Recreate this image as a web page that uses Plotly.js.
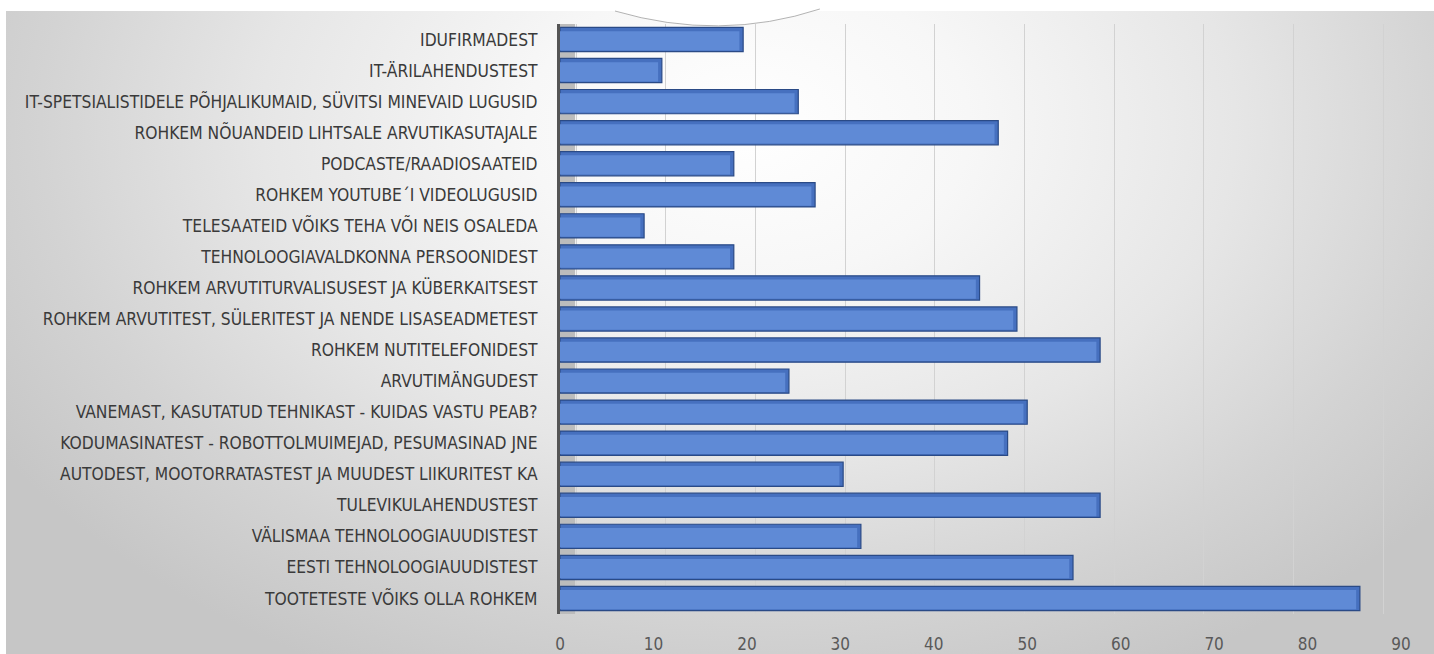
<!DOCTYPE html>
<html>
<head>
<meta charset="utf-8">
<script src="https://cdn.plot.ly/plotly-3.0.1.min.js"></script>
<style>
  html, body { margin: 0; padding: 0; background: #ffffff; }
  #wrap { position: relative; width: 1434px; height: 654px; overflow: hidden; }
  #bg { position: absolute; left: 6px; top: 11px; width: 1428px; height: 643px;
        background: radial-gradient(ellipse 62% 95% at 52% 18%, #ffffff 0%, #f7f7f7 25%, #e6e6e6 55%, #d3d3d3 80%, #c6c6c6 100%); }
  #chart { position: absolute; left: 0; top: 0; width: 1434px; height: 654px; }
</style>
</head>
<body>
<div id="wrap">
  <div id="bg"></div>
  <div id="chart"></div>
</div>
<script>
// Categories, top to bottom
const categories = [
  "IDUFIRMADEST",
  "IT-ÄRILAHENDUSTEST",
  "IT-SPETSIALISTIDELE PÕHJALIKUMAID, SÜVITSI MINEVAID LUGUSID",
  "ROHKEM NÕUANDEID LIHTSALE ARVUTIKASUTAJALE",
  "PODCASTE/RAADIOSAATEID",
  "ROHKEM YOUTUBE´I VIDEOLUGUSID",
  "TELESAATEID VÕIKS TEHA VÕI NEIS OSALEDA",
  "TEHNOLOOGIAVALDKONNA PERSOONIDEST",
  "ROHKEM ARVUTITURVALISUSEST JA KÜBERKAITSEST",
  "ROHKEM ARVUTITEST, SÜLERITEST JA NENDE LISASEADMETEST",
  "ROHKEM NUTITELEFONIDEST",
  "ARVUTIMÄNGUDEST",
  "VANEMAST, KASUTATUD TEHNIKAST - KUIDAS VASTU PEAB?",
  "KODUMASINATEST - ROBOTTOLMUIMEJAD, PESUMASINAD JNE",
  "AUTODEST, MOOTORRATASTEST JA MUUDEST LIIKURITEST KA",
  "TULEVIKULAHENDUSTEST",
  "VÄLISMAA TEHNOLOOGIAUUDISTEST",
  "EESTI TEHNOLOOGIAUUDISTEST",
  "TOOTETESTE VÕIKS OLLA ROHKEM"
];
// Values
const values = [19.6, 10.9, 25.5, 46.9, 18.6, 27.3, 9.0, 18.6, 44.9, 48.9, 57.8, 24.5, 50.0, 47.9, 30.3, 57.8, 32.2, 54.9, 85.6];
const xTicks = [0, 10, 20, 30, 40, 50, 60, 70, 80, 90];

const labelFont = "'Liberation Sans Narrow', 'DejaVu Sans Condensed', sans-serif";

const base = {
  type: 'bar', orientation: 'h',
  x: values, y: categories,
  width: 0.78,
  marker: { color: '#4670bf', line: { color: '#2a4a86', width: 1.2 } },
  hoverinfo: 'x+y', showlegend: false
};
const face = {
  type: 'bar', orientation: 'h',
  x: values.map(v => v - 0.4), y: categories,
  width: 0.62, offset: -0.27,
  marker: { color: '#5f8ad6', line: { width: 0 } },
  hoverinfo: 'skip', showlegend: false
};
const grid = {
  type: 'scatter', mode: 'none',
  x: values, y: categories, xaxis: 'x2', yaxis: 'y',
  hoverinfo: 'skip', showlegend: false
};

const layout = {
  width: 1434, height: 654,
  margin: { l: 560, r: 33, t: 24, b: 40 },
  paper_bgcolor: 'rgba(0,0,0,0)',
  plot_bgcolor: 'rgba(0,0,0,0)',
  barmode: 'overlay',
  showlegend: false,
  xaxis: {
    range: [0, 90],
    tickvals: xTicks,
    ticktext: xTicks.map(String),
    showgrid: false, zeroline: false, showline: false,
    ticks: 'outside', ticklen: 15, tickcolor: 'rgba(0,0,0,0)',
    tickfont: { family: labelFont, size: 17, color: '#595959' }
  },
  xaxis2: {
    overlaying: 'x', side: 'bottom',
    range: [-1.784, 92.0],
    tickvals: xTicks,
    showgrid: true, gridcolor: '#d2d2d2', gridwidth: 1,
    showticklabels: false, zeroline: false, showline: false, ticks: ''
  },
  yaxis: {
    type: 'category',
    range: [categories.length - 0.5, -0.5],
    showgrid: false, zeroline: false,
    showline: true, linecolor: '#555555', linewidth: 3,
    ticks: 'outside', ticklen: 16, tickcolor: 'rgba(0,0,0,0)',
    tickfont: { family: labelFont, size: 17.3, color: '#3a3a3a' }
  },
  shapes: [
    { type: 'rect', layer: 'below', xref: 'x2', yref: 'paper',
      x0: -1.784, x1: -0.1, y0: 0, y1: 1,
      fillcolor: '#bcbcbc', line: { width: 0 } },
    { type: 'path', layer: 'above', xref: 'paper', yref: 'paper',
      path: 'M 0.0654,1.045 L 0.0654,1.022 Q 0.19,0.97 0.309,1.0254 L 0.309,1.045 Z',
      fillcolor: '#ffffff', line: { width: 0 } },
    { type: 'path', layer: 'above', xref: 'paper', yref: 'paper',
      path: 'M 0.0654,1.022 Q 0.19,0.97 0.309,1.0254',
      line: { color: '#a0a0a0', width: 0.8 } }
  ]
};

Plotly.newPlot('chart', [grid, base, face], layout, { displayModeBar: false, staticPlot: true });
</script>
</body>
</html>
